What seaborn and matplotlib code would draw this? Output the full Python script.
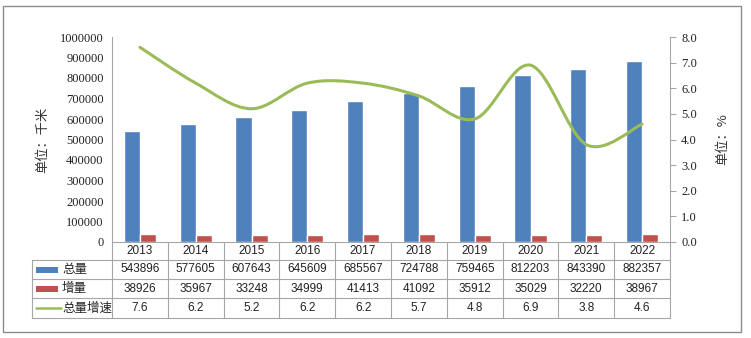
import numpy as np
import pandas as pd
import matplotlib
matplotlib.use("Agg")
import matplotlib.pyplot as plt
from matplotlib.path import Path
from matplotlib.patches import PathPatch, Rectangle
from matplotlib.lines import Line2D
import seaborn as sns

years = ["2013", "2014", "2015", "2016", "2017", "2018", "2019", "2020", "2021", "2022"]
total = [543896, 577605, 607643, 645609, 685567, 724788, 759465, 812203, 843390, 882357]
increase = [38926, 35967, 33248, 34999, 41413, 41092, 35912, 35029, 32220, 38967]
growth = [7.6, 6.2, 5.2, 6.2, 6.2, 5.7, 4.8, 6.9, 3.8, 4.6]
series_names = ["总量", "增量", "总量增速"]
left_ticks = [0, 100000, 200000, 300000, 400000, 500000, 600000, 700000, 800000, 900000, 1000000]
right_ticks = [0.0, 1.0, 2.0, 3.0, 4.0, 5.0, 6.0, 7.0, 8.0]

sns.set_theme(style="white")
plt.rcParams['font.family'] = ['Liberation Serif', 'Noto Sans CJK SC', 'DejaVu Sans']

BLUE, RED, GREEN = "#4F81BD", "#C0504D", "#9BBB59"
GRID = "#A6A6A6"
W, H = 751, 338

fig = plt.figure(figsize=(W / 100, H / 100), dpi=100)

def fx(px):
    return px / W

def fy(py):
    return 1 - py / H

ax_l, ax_r, ax_t, ax_b = 112, 670, 37, 242
ax = fig.add_axes([fx(ax_l), fy(ax_b), fx(ax_r) - fx(ax_l), fy(ax_t) - fy(ax_b)])

df = pd.DataFrame({
    "year": years * 2,
    "series": [series_names[0]] * len(years) + [series_names[1]] * len(years),
    "value": total + increase,
})
sns.barplot(data=df, x="year", y="value", hue="series", palette=[BLUE, RED],
            width=0.58, gap=0, ax=ax, legend=False, saturation=1)
ax.set_ylim(0, 1000000)
ax.set_xlim(-0.5, len(years) - 0.5)
ax.set_yticks(left_ticks)
ax.set_yticklabels([str(t) for t in left_ticks])
ax.tick_params(axis='y', length=0, pad=6, labelsize=9, labelfontfamily='Liberation Serif', labelcolor="#222222")
ax.set_xticks([])
ax.set_xlabel("")
ax.set_ylabel("单位：千米", fontsize=9.5, family=['Noto Sans CJK SC'], labelpad=8, color="#333333")
for s in ["top", "right", "bottom"]:
    ax.spines[s].set_visible(False)
ax.spines["left"].set_color(GRID)
ax.spines["left"].set_linewidth(0.8)

ax2 = ax.twinx()
ax2.set_ylim(0, 8)
ax2.set_yticks(right_ticks)
ax2.set_yticklabels([f"{t:.1f}" for t in right_ticks])
ax2.tick_params(axis='y', length=4, width=0.8, color=GRID, pad=4, direction='out',
                labelsize=9, labelfontfamily='Liberation Serif', labelcolor="#222222")
for s in ["top", "left", "bottom"]:
    ax2.spines[s].set_visible(False)
ax2.spines["right"].set_color(GRID)
ax2.spines["right"].set_linewidth(0.8)
ax2.set_ylabel("单位：%", fontsize=9.5, family=['Noto Sans CJK SC'], labelpad=14, color="#333333")
ax2.set_xlim(-0.5, len(years) - 0.5)

# smoothed line (Bezier path through the data points)
xs = np.arange(len(growth), dtype=float)
ys = np.array(growth, dtype=float)
verts = [(xs[0], ys[0])]
codes = [Path.MOVETO]
t = 1 / 6
for i in range(len(xs) - 1):
    p0 = np.array([xs[max(i - 1, 0)], ys[max(i - 1, 0)]])
    p1 = np.array([xs[i], ys[i]])
    p2 = np.array([xs[i + 1], ys[i + 1]])
    p3 = np.array([xs[min(i + 2, len(xs) - 1)], ys[min(i + 2, len(xs) - 1)]])
    c1 = p1 + (p2 - p0) * t
    c2 = p2 - (p3 - p1) * t
    verts += [tuple(c1), tuple(c2), tuple(p2)]
    codes += [Path.CURVE4] * 3
ax2.add_patch(PathPatch(Path(verts, codes), fill=False, edgecolor=GREEN, lw=2.2, capstyle='round'))

# data table
rows_y = [242, 260, 279, 298, 318]
tab_left = 32
n = len(years)
col_w = (ax_r - ax_l) / n

def hline(x0, x1, y):
    fig.add_artist(Line2D([fx(x0), fx(x1)], [fy(y), fy(y)], color=GRID, lw=0.8))

def vline(x, y0, y1):
    fig.add_artist(Line2D([fx(x), fx(x)], [fy(y0), fy(y1)], color=GRID, lw=0.8))

hline(ax_l, ax_r, rows_y[0])
for y in rows_y[1:]:
    hline(tab_left, ax_r, y)
vline(tab_left, rows_y[1], rows_y[4])
for i in range(n + 1):
    vline(ax_l + i * col_w, rows_y[0], rows_y[4])

num_font = 'Liberation Sans'
for i in range(n):
    cx = fx(ax_l + (i + 0.5) * col_w)
    fig.text(cx, fy((rows_y[0] + rows_y[1]) / 2), years[i], ha='center', va='center', fontsize=8.5, family=num_font, color="#222222")
    fig.text(cx, fy((rows_y[1] + rows_y[2]) / 2), str(total[i]), ha='center', va='center', fontsize=8.5, family=num_font, color="#222222")
    fig.text(cx, fy((rows_y[2] + rows_y[3]) / 2), str(increase[i]), ha='center', va='center', fontsize=8.5, family=num_font, color="#222222")
    fig.text(cx, fy((rows_y[3] + rows_y[4]) / 2), f"{growth[i]:.1f}", ha='center', va='center', fontsize=8.5, family=num_font, color="#222222")

# legend keys in table
for r, (name, col) in enumerate(zip(series_names, [BLUE, RED, GREEN])):
    yc = (rows_y[r + 1] + rows_y[r + 2]) / 2
    if r < 2:
        fig.add_artist(Rectangle((fx(36), fy(yc + 3)), fx(58) - fx(36), fy(yc - 3) - fy(yc + 3),
                                 facecolor=col, edgecolor='none', transform=fig.transFigure))
    else:
        fig.add_artist(Line2D([fx(36), fx(61)], [fy(yc), fy(yc)], color=col, lw=1.8))
    fig.text(fx(62), fy(yc), name, ha='left', va='center', fontsize=9, family=['Noto Sans CJK SC'], color="#222222")

# outer border
fig.add_artist(Rectangle((fx(3), fy(332)), fx(741) - fx(3), fy(6) - fy(332), fill=False,
                         edgecolor="#8C8C8C", lw=1.0, transform=fig.transFigure))

fig.savefig("out.png", dpi=100)
